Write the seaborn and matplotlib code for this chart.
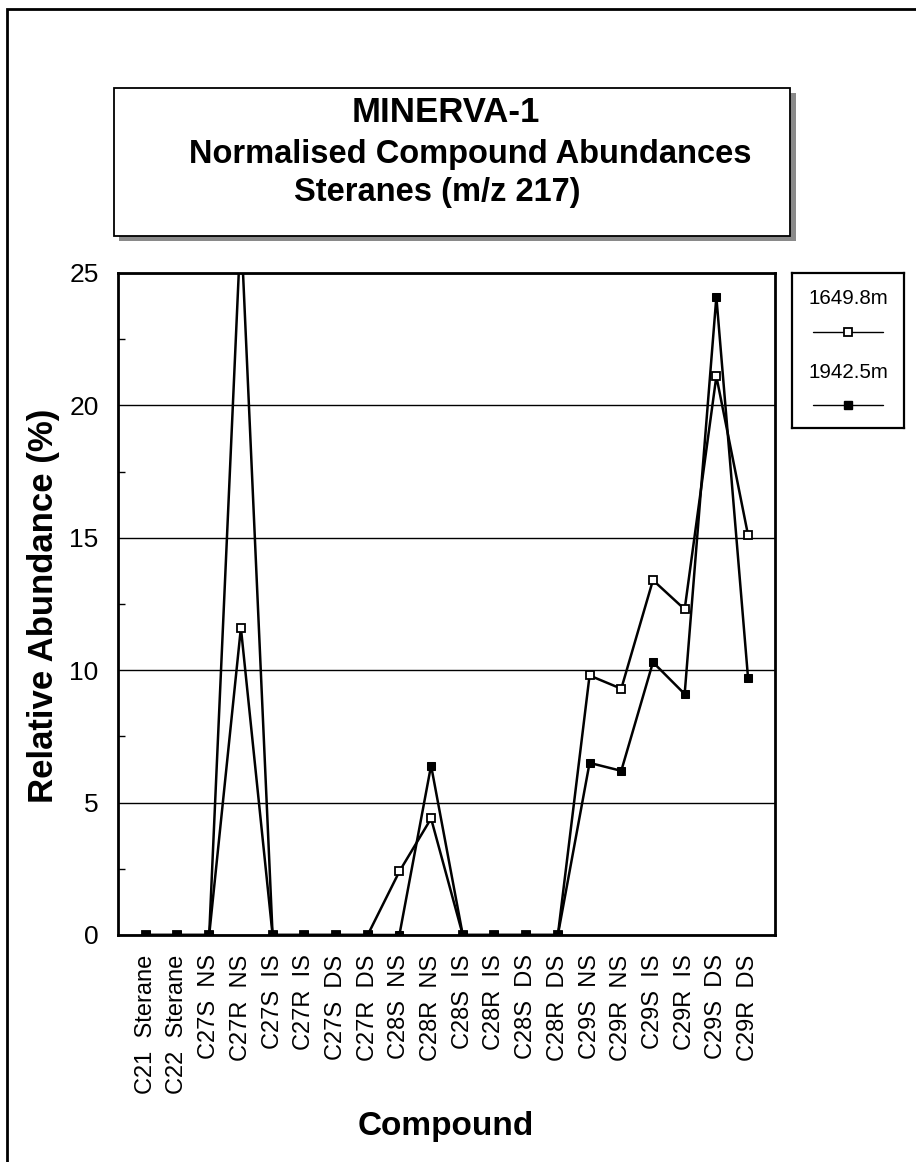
import matplotlib
matplotlib.use("Agg")
import matplotlib.pyplot as plt
from matplotlib.patches import Rectangle
from matplotlib.ticker import MultipleLocator
import seaborn as sns


compounds = ["C21  Sterane", "C22  Sterane", "C27S  NS", "C27R  NS", "C27S  IS",
             "C27R  IS", "C27S  DS", "C27R  DS", "C28S  NS", "C28R  NS",
             "C28S  IS", "C28R  IS", "C28S  DS", "C28R  DS", "C29S  NS",
             "C29R  NS", "C29S  IS", "C29R  IS", "C29S  DS", "C29R  DS"]
depth_a = "1649.8m"
depth_b = "1942.5m"
abund_a = [0, 0, 0, 11.6, 0, 0, 0, 0, 2.4, 4.4, 0, 0, 0, 0, 9.8, 9.3, 13.4, 12.3, 21.1, 15.1]
abund_b = [0, 0, 0, 26.8, 0, 0, 0, 0, 0, 6.4, 0, 0, 0, 0, 6.5, 6.2, 10.3, 9.1, 24.1, 9.7]
title_lines = ["MINERVA-1", "Normalised Compound Abundances", "Steranes (m/z 217)"]

sns.set_style("white")
plt.rcParams["font.family"] = ["Liberation Sans", "DejaVu Sans"]
plt.rcParams["text.color"] = "black"
plt.rcParams["axes.labelcolor"] = "black"
plt.rcParams["xtick.color"] = "black"
plt.rcParams["ytick.color"] = "black"

W, H = 916, 1162
fig = plt.figure(figsize=(W / 100, H / 100), dpi=100)


def box(x0, y0, x1, y1):
    # pixel box (top-left origin) -> figure fraction rect
    return [x0 / W, 1 - y1 / H, (x1 - x0) / W, (y1 - y0) / H]


# outer frame (right/bottom edges cut off in the scan)
fig.patches.append(Rectangle((7 / W, -0.05), 1.2, 1 - 9 / H + 0.05, transform=fig.transFigure,
                             fill=False, edgecolor="black", linewidth=2))

# title box with shadow
fig.patches.append(Rectangle((119 / W, 1 - 241 / H), (796 - 119) / W, (241 - 93) / H,
                             transform=fig.transFigure, facecolor="#8a8a8a", edgecolor="none"))
fig.patches.append(Rectangle((114 / W, 1 - 236 / H), (790 - 114) / W, (236 - 88) / H,
                             transform=fig.transFigure, facecolor="white", edgecolor="black",
                             linewidth=1.3))
fig.text(446 / W, 1 - 112 / H, title_lines[0], ha="center", va="center",
         fontsize=25, fontweight="bold", color="black")
fig.text(470 / W, 1 - 154 / H, title_lines[1], ha="center", va="center",
         fontsize=23.5, fontweight="bold", color="black")
fig.text(437 / W, 1 - 193 / H, title_lines[2], ha="center", va="center",
         fontsize=23.5, fontweight="bold", color="black")

# main plot
ax = fig.add_axes(box(118, 273, 775, 935))
pos = list(range(len(compounds)))

sns.lineplot(x=pos, y=abund_a, ax=ax, color="black", linewidth=1.8, marker="s",
             markersize=6, markerfacecolor="white", markeredgecolor="black",
             markeredgewidth=1.3, legend=False)
sns.lineplot(x=pos, y=abund_b, ax=ax, color="black", linewidth=1.8, marker="s",
             markersize=6, markerfacecolor="black", markeredgecolor="black", legend=False)

ax.set_xlim(-0.877, 19.85)
ax.set_ylim(0, 25)
ax.yaxis.set_major_locator(MultipleLocator(5))
ax.yaxis.set_minor_locator(MultipleLocator(2.5))
ax.set_xticks(pos)
ax.set_xticklabels(compounds, rotation=90, fontsize=17)
ax.tick_params(axis="x", direction="in", length=9, width=1, pad=14, colors="black")
ax.tick_params(axis="y", which="major", direction="in", length=7, width=1, pad=14,
               labelsize=19, colors="black")
ax.tick_params(axis="y", which="minor", direction="in", length=5, width=1, left=True)

ax.grid(axis="y", which="major", color="black", linewidth=1)
ax.set_axisbelow(True)
for s in ax.spines.values():
    s.set_visible(True)
    s.set_color("black")
    s.set_linewidth(2)

ax.set_xlabel("Compound", fontsize=24, fontweight="bold")
ax.xaxis.set_label_coords(0.499, -0.29)
ax.xaxis.label.set_va("center")
ax.set_ylabel("Relative Abundance (%)", fontsize=25, fontweight="bold")
ax.yaxis.set_label_coords(-0.114, 0.497)
ax.yaxis.label.set_va("center")

# legend box: label above each sample line
lg = fig.add_axes(box(792, 273, 904, 428))
lg.set_xlim(0, 1)
lg.set_ylim(0, 1)
lg.set_xticks([])
lg.set_yticks([])
for s in lg.spines.values():
    s.set_color("black")
    s.set_linewidth(1.6)
lg.text(0.5, 1 - (299 - 273) / 155, depth_a, ha="center", va="center", fontsize=14.8)
lg.text(0.5, 1 - (373 - 273) / 155, depth_b, ha="center", va="center", fontsize=14.8)
ya = 1 - (332 - 273) / 155
yb = 1 - (405 - 273) / 155
lg.plot([0.19, 0.81], [ya, ya], color="black", linewidth=1)
lg.plot([0.5], [ya], marker="s", markersize=6, markerfacecolor="white",
        markeredgecolor="black", markeredgewidth=1.3)
lg.plot([0.19, 0.81], [yb, yb], color="black", linewidth=1)
lg.plot([0.5], [yb], marker="s", markersize=6, color="black")

fig.savefig("out.png", dpi=100)
